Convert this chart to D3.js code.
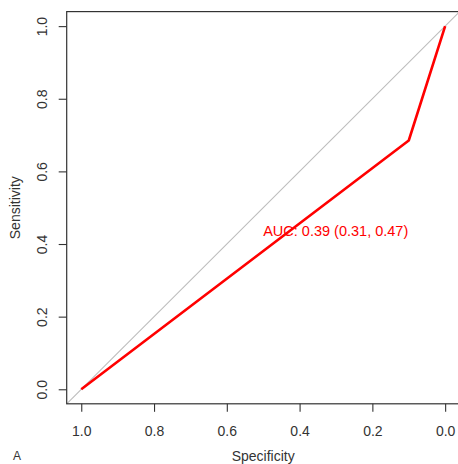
<!DOCTYPE html>
<html><head><meta charset="utf-8">
<script src="https://cdn.jsdelivr.net/npm/d3@7"></script>
<style>body{margin:0;background:#fff}svg{display:block}text{font-family:"Liberation Sans",Arial,sans-serif}</style>
</head><body>
<script>
const specificity = [1.0, 0.1, 0.0];
const sensitivity = [0.0, 0.685, 1.0];
const tickValues = [1.0, 0.8, 0.6, 0.4, 0.2, 0.0];
const aucLabel = "AUC: 0.39 (0.31, 0.47)";
const xTitle = "Specificity", yTitle = "Sensitivity", panelLabel = "A";

const W = 458, H = 464;
const svg = d3.select("body").append("svg").attr("width", W).attr("height", H);
const x = d3.scaleLinear().domain([1.04, -0.04]).range([66.7, 459.7]);
const y = d3.scaleLinear().domain([-0.04, 1.04]).range([403.8, 11.6]);
const axisCol = "#333";

// diagonal reference
svg.append("line").attr("x1", x(1.04)).attr("y1", y(-0.04)).attr("x2", x(-0.04)).attr("y2", y(1.04))
  .attr("stroke", "#bdbdbd").attr("stroke-width", 1.1);

// box
svg.append("rect").attr("x", x(1.04)).attr("y", y(1.04)).attr("width", x(-0.04) - x(1.04)).attr("height", y(-0.04) - y(1.04))
  .attr("fill", "none").attr("stroke", axisCol).attr("stroke-width", 1.2);

// axes
const fmt = d3.format(".1f");
const xa = svg.append("g").attr("transform", `translate(0,${y(-0.04)})`)
  .call(d3.axisBottom(x).tickValues(tickValues).tickFormat(fmt).tickSize(8).tickPadding(14));
const ya = svg.append("g").attr("transform", `translate(${x(1.04)},0)`)
  .call(d3.axisLeft(y).tickValues(tickValues).tickFormat(fmt).tickSize(8).tickPadding(0));
[xa, ya].forEach(g => {
  g.select(".domain").remove();
  g.selectAll("line").attr("stroke", axisCol).attr("stroke-width", 1.1);
  g.selectAll("text").attr("fill", "#333").style("font-size", "14px").style("font-family", '"Liberation Sans",Arial,sans-serif');
});
ya.selectAll("text").attr("text-anchor", "middle").attr("dy", 0)
  .attr("transform", `translate(-25,0) rotate(-90)`).attr("x", 0).attr("y", 0)
  .attr("dominant-baseline", "central");

// ROC curve
svg.append("path").datum(specificity.map((s, i) => [s, sensitivity[i]]))
  .attr("d", d3.line().x(d => x(d[0])).y(d => y(d[1])))
  .attr("fill", "none").attr("stroke", "#ff0000").attr("stroke-width", 2.6).attr("stroke-linejoin", "round");

// AUC label
svg.append("text").attr("x", x(0.5)).attr("y", y(0.436)).attr("dominant-baseline", "central")
  .attr("fill", "#ff0000").style("font-size", "14.5px").text(aucLabel);

// titles
svg.append("text").attr("x", (x(1.04) + x(-0.04)) / 2).attr("y", 456).attr("text-anchor", "middle")
  .attr("dominant-baseline", "central").attr("fill", "#333").style("font-size", "14px").text(xTitle);
svg.append("text").attr("transform", `translate(15,${(y(1.04) + y(-0.04)) / 2}) rotate(-90)`).attr("text-anchor", "middle")
  .attr("dominant-baseline", "central").attr("fill", "#333").style("font-size", "14px").text(yTitle);
svg.append("text").attr("x", 17).attr("y", 456).attr("text-anchor", "middle").attr("dominant-baseline", "central")
  .attr("fill", "#333").style("font-size", "12px").text(panelLabel);
</script>
</body></html>
